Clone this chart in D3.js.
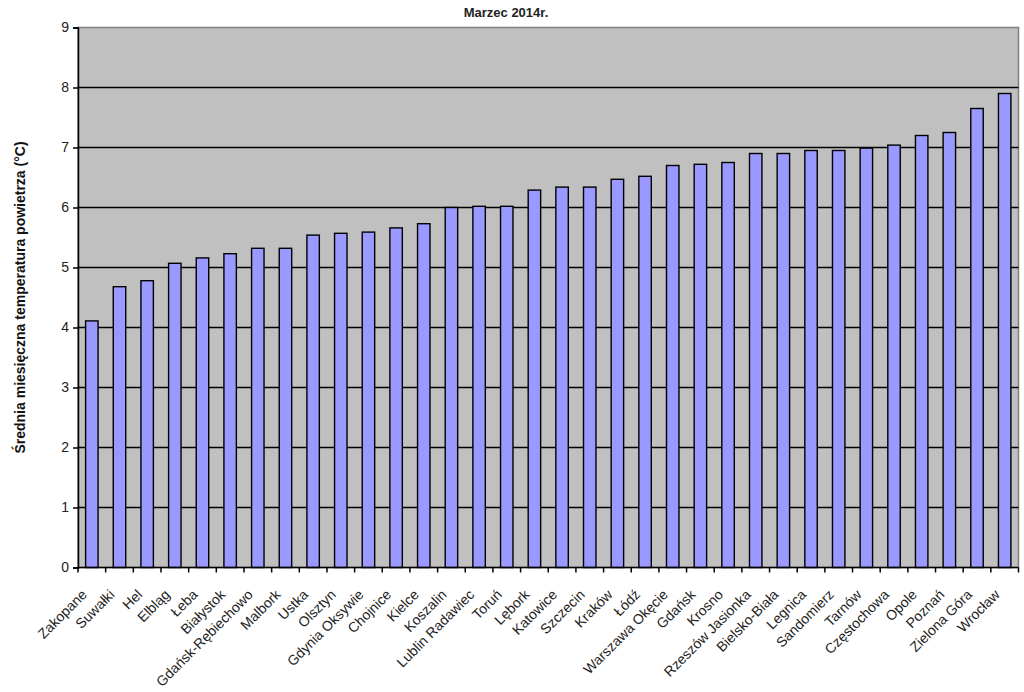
<!DOCTYPE html>
<html>
<head>
<meta charset="utf-8">
<script src="https://cdn.jsdelivr.net/npm/d3@7"></script>
<style>
  body { margin: 0; background: #fff; }
  svg { display: block; font-family: Arial, "Liberation Sans", sans-serif; }
</style>
</head>
<body>
<svg id="chart"></svg>
<script>
// stacje i średnie temperatury, marzec 2014
var stations = ["Zakopane", "Suwałki", "Hel", "Elbląg", "Łeba", "Białystok",
  "Gdańsk-Rębiechowo", "Malbork", "Ustka", "Olsztyn", "Gdynia Oksywie", "Chojnice",
  "Kielce", "Koszalin", "Lublin Radawiec", "Toruń", "Lębork", "Katowice", "Szczecin",
  "Kraków", "Łódź", "Warszawa Okęcie", "Gdańsk", "Krosno", "Rzeszów Jasionka",
  "Bielsko-Biała", "Legnica", "Sandomierz", "Tarnów", "Częstochowa", "Opole",
  "Poznań", "Zielona Góra", "Wrocław"];
var temps = [4.11, 4.68, 4.78, 5.07, 5.16, 5.23, 5.32, 5.32, 5.54, 5.57, 5.59, 5.66,
  5.73, 6.0, 6.02, 6.02, 6.29, 6.34, 6.34, 6.47, 6.52, 6.7, 6.72, 6.75, 6.9,
  6.9, 6.95, 6.95, 6.99, 7.04, 7.2, 7.25, 7.65, 7.9];
var yTicks = [0, 1, 2, 3, 4, 5, 6, 7, 8, 9];
var chartTitle = "Marzec 2014r.";
var yTitle = "Średnia miesięczna temperatura powietrza (°C)";

var WIDTH = 1024, HEIGHT = 692,
  MARGINS = { top: 27.5, right: 5.5, bottom: 124.5, left: 78 };

var svg = d3.select("#chart")
  .attr("width", WIDTH)
  .attr("height", HEIGHT);

var x = d3.scaleBand()
  .domain(stations)
  .range([MARGINS.left, WIDTH - MARGINS.right])
  .padding(0);

var y = d3.scaleLinear()
  .domain([0, 9])
  .range([HEIGHT - MARGINS.bottom, MARGINS.top]);

var barW = x.bandwidth() * 0.45;

// tło wykresu
svg.append("rect")
  .attr("x", MARGINS.left)
  .attr("y", MARGINS.top)
  .attr("width", WIDTH - MARGINS.right - MARGINS.left)
  .attr("height", y(0) - MARGINS.top)
  .attr("fill", "#c0c0c0")
  .attr("stroke", "#808080")
  .attr("stroke-width", 1.5);

// linie siatki
svg.append("g")
  .selectAll("line")
  .data(yTicks.filter(function (d) { return d > 0 && d < 9; }))
  .join("line")
  .attr("x1", MARGINS.left)
  .attr("x2", WIDTH - MARGINS.right)
  .attr("y1", function (d) { return y(d); })
  .attr("y2", function (d) { return y(d); })
  .attr("stroke", "#000")
  .attr("stroke-width", 1.5);

// słupki
svg.append("g")
  .selectAll("rect")
  .data(temps)
  .join("rect")
  .attr("x", function (d, i) { return x(stations[i]) + (x.bandwidth() - barW) / 2; })
  .attr("y", function (d) { return y(d); })
  .attr("width", barW)
  .attr("height", function (d) { return y(0) - y(d); })
  .attr("fill", "#9999ff")
  .attr("stroke", "#000")
  .attr("stroke-width", 1.4);

// oś Y
var yAxis = svg.append("g")
  .attr("transform", "translate(" + MARGINS.left + ",0)")
  .call(d3.axisLeft(y).tickValues(yTicks).tickSize(5).tickPadding(4).tickFormat(d3.format("d")));
yAxis.select(".domain").attr("stroke", "#000").attr("stroke-width", 1.5);
yAxis.selectAll(".tick line").attr("stroke", "#000").attr("stroke-width", 1.5);
yAxis.selectAll(".tick text")
  .attr("font-size", 14)
  .attr("font-family", "Arial, 'Liberation Sans', sans-serif")
  .attr("fill", "#222");

// oś X - znaczniki między kategoriami
var xAxis = svg.append("g");
xAxis.append("line")
  .attr("x1", MARGINS.left)
  .attr("x2", WIDTH - MARGINS.right)
  .attr("y1", y(0))
  .attr("y2", y(0))
  .attr("stroke", "#000")
  .attr("stroke-width", 1.5);
xAxis.selectAll("line.tick")
  .data(stations.concat(["_end"]))
  .join("line")
  .attr("class", "tick")
  .attr("x1", function (d, i) { return MARGINS.left + i * x.step(); })
  .attr("x2", function (d, i) { return MARGINS.left + i * x.step(); })
  .attr("y1", y(0))
  .attr("y2", y(0) + 5)
  .attr("stroke", "#000")
  .attr("stroke-width", 1.5);

xAxis.selectAll("text")
  .data(stations)
  .join("text")
  .attr("transform", function (d) {
    return "translate(" + (x(d) + x.bandwidth() / 2 - 4) + "," + (y(0) + 28) + ") rotate(-45)";
  })
  .attr("text-anchor", "end")
  .attr("font-size", 14)
  .attr("fill", "#222")
  .text(function (d) { return d; });

// tytuły
svg.append("text")
  .attr("x", 506)
  .attr("y", 17)
  .attr("text-anchor", "middle")
  .attr("font-size", 13)
  .attr("font-weight", "bold")
  .attr("fill", "#222")
  .text(chartTitle);

svg.append("text")
  .attr("transform", "translate(25," + ((MARGINS.top + y(0)) / 2) + ") rotate(-90)")
  .attr("text-anchor", "middle")
  .attr("font-size", 14)
  .attr("font-weight", "bold")
  .attr("fill", "#111")
  .text(yTitle);
</script>
</body>
</html>
